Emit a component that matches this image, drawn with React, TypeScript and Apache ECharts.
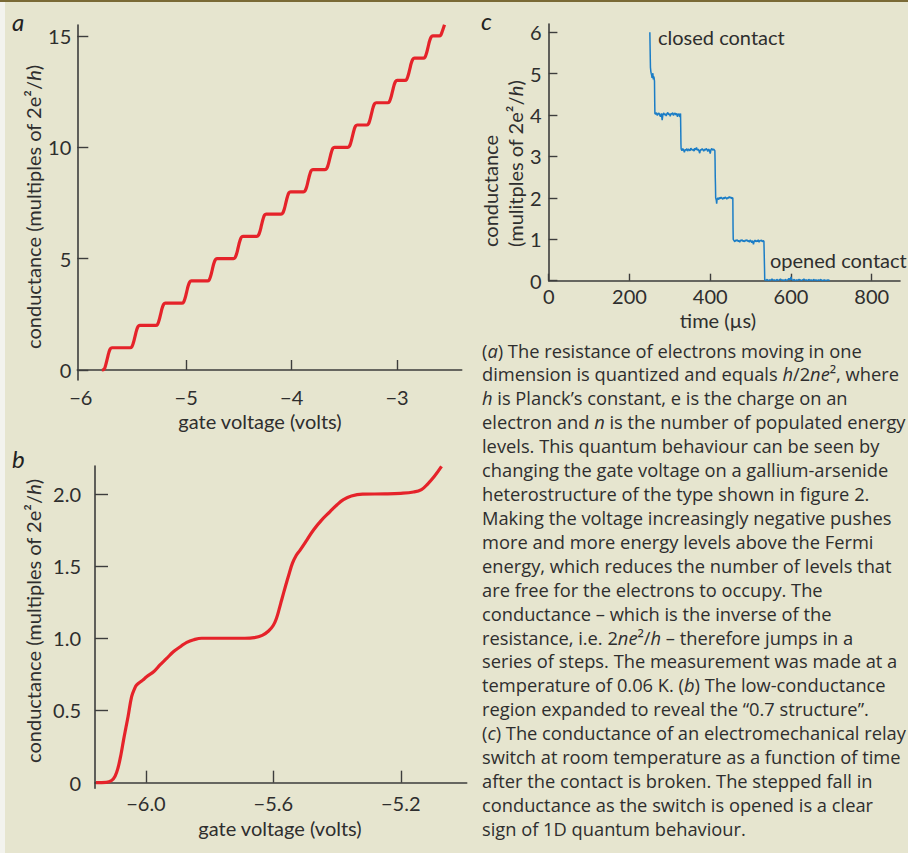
import React, { useEffect, useRef } from 'react';
import * as echarts from 'echarts';

// ---------- Panel a: conductance vs gate voltage (wide range) ----------
const aCurve: [number, number][] = [
  [-5.8, 0], [-5.779, 0.03], [-5.764, 0.22], [-5.749, 0.5], [-5.734, 0.78], [-5.719, 0.96], [-5.704, 1],
  [-5.531, 1], [-5.516, 1.04], [-5.501, 1.22], [-5.486, 1.5], [-5.471, 1.78], [-5.456, 1.96], [-5.441, 2],
  [-5.288, 2], [-5.273, 2.04], [-5.258, 2.22], [-5.243, 2.5], [-5.228, 2.78], [-5.213, 2.96], [-5.198, 3],
  [-5.041, 3], [-5.026, 3.04], [-5.011, 3.22], [-4.996, 3.5], [-4.981, 3.78], [-4.966, 3.96], [-4.951, 4],
  [-4.798, 4], [-4.783, 4.04], [-4.768, 4.22], [-4.753, 4.5], [-4.738, 4.78], [-4.723, 4.96], [-4.708, 5],
  [-4.552, 5], [-4.537, 5.04], [-4.522, 5.22], [-4.507, 5.5], [-4.492, 5.78], [-4.477, 5.96], [-4.462, 6],
  [-4.331, 6], [-4.316, 6.04], [-4.301, 6.22], [-4.286, 6.5], [-4.271, 6.78], [-4.256, 6.96], [-4.241, 7],
  [-4.1, 7], [-4.085, 7.04], [-4.07, 7.22], [-4.055, 7.5], [-4.04, 7.78], [-4.025, 7.96], [-4.01, 8],
  [-3.888, 8], [-3.873, 8.04], [-3.858, 8.22], [-3.843, 8.5], [-3.828, 8.78], [-3.813, 8.96], [-3.798, 9],
  [-3.683, 9], [-3.668, 9.04], [-3.653, 9.22], [-3.638, 9.5], [-3.623, 9.78], [-3.608, 9.96], [-3.593, 10],
  [-3.468, 10], [-3.453, 10.04], [-3.438, 10.22], [-3.423, 10.5], [-3.408, 10.78], [-3.393, 10.96], [-3.378, 11],
  [-3.288, 11], [-3.273, 11.04], [-3.258, 11.22], [-3.243, 11.5], [-3.228, 11.78], [-3.213, 11.96], [-3.198, 12],
  [-3.089, 12], [-3.074, 12.04], [-3.059, 12.22], [-3.044, 12.5], [-3.029, 12.78], [-3.014, 12.96], [-2.999, 13],
  [-2.925, 13], [-2.91, 13.04], [-2.895, 13.22], [-2.88, 13.5], [-2.865, 13.78], [-2.85, 13.96], [-2.835, 14],
  [-2.751, 14], [-2.736, 14.04], [-2.721, 14.22], [-2.706, 14.5], [-2.691, 14.78], [-2.676, 14.96], [-2.661, 15],
  [-2.6, 15], [-2.585, 15.04], [-2.57, 15.22], [-2.55, 15.5],
];
const aXLabels = [-6, -5, -4, -3];
const aXTicks = [-5, -4, -3];
const aYTicks = [0, 5, 10, 15];

// ---------- Panel b: low-conductance region ----------
const bCurve: [number, number][] = [
  [-6.157, 0], [-6.125, 0.002], [-6.108, 0.015], [-6.097, 0.045], [-6.088, 0.1],
  [-6.078, 0.2], [-6.07, 0.3], [-6.063, 0.38], [-6.056, 0.46], [-6.045, 0.596],
  [-6.036, 0.65], [-6.029, 0.677], [-6.01, 0.71], [-5.998, 0.734], [-5.975, 0.77],
  [-5.956, 0.815], [-5.935, 0.86], [-5.914, 0.907], [-5.89, 0.945], [-5.872, 0.972],
  [-5.85, 0.99], [-5.825, 1.0], [-5.75, 1.0], [-5.69, 1.0], [-5.66, 1.004],
  [-5.635, 1.02], [-5.615, 1.05], [-5.6, 1.09], [-5.59, 1.14], [-5.582, 1.2],
  [-5.574, 1.265], [-5.562, 1.36], [-5.55, 1.45], [-5.54, 1.52], [-5.528, 1.575],
  [-5.516, 1.611], [-5.495, 1.68], [-5.474, 1.75], [-5.45, 1.815], [-5.422, 1.877],
  [-5.4, 1.925], [-5.38, 1.96], [-5.355, 1.985], [-5.32, 1.998], [-5.25, 2.0],
  [-5.2, 2.004], [-5.16, 2.013], [-5.135, 2.03], [-5.115, 2.07], [-5.095, 2.12],
  [-5.072, 2.19],
];
const bXTicks = [-6.0, -5.6, -5.2];
const bYTicks = [0, 0.5, 1.0, 1.5, 2.0];

// ---------- Panel c: relay switch conductance vs time ----------
const cCurve: [number, number][] = [
  [250.5, 6.0], [251, 5.7], [251.5, 5.4], [252, 5.15], [253, 5.05], [254, 5.0], [255, 4.96],
  [256, 4.9], [257, 4.98], [258, 5.01], [259, 4.86], [260, 4.93], [261, 4.9], [262, 4.82],
  [262.6, 4.3], [263, 4.04],
  [265, 4.02], [267, 4.06], [269, 3.99], [271, 4.03], [273, 4.05], [275, 4.0], [277, 3.96],
  [279, 4.04], [281, 3.88], [283, 4.02], [285, 4.05], [287, 4.0], [289, 4.03], [291, 3.98],
  [293, 4.04], [295, 4.06], [297, 4.01], [299, 4.03], [301, 3.97], [303, 4.04], [305, 4.02],
  [307, 4.06], [309, 3.99], [311, 4.03], [313, 4.05], [315, 4.0], [317, 4.04], [319, 3.96],
  [321, 4.03], [323, 4.02], [325, 3.95], [326.5, 4.04],
  [327.5, 3.3], [328, 3.18], [330, 3.14], [332, 3.19], [334, 3.16], [336, 3.1], [338, 3.17],
  [340, 3.15], [342, 3.19], [344, 3.13], [346, 3.18], [348, 3.16], [350, 3.14], [352, 3.2],
  [354, 3.17], [356, 3.15], [358, 3.18], [360, 3.13], [362, 3.2], [364, 3.16], [366, 3.22],
  [368, 3.15], [370, 3.18], [372, 3.14], [374, 3.08], [376, 3.17], [378, 3.15], [380, 3.19],
  [382, 3.16], [384, 3.13], [386, 3.18], [388, 3.15], [390, 3.19], [392, 3.17], [394, 3.12],
  [396, 3.18], [398, 3.15], [400, 3.07], [402, 3.17], [404, 3.19], [406, 3.15], [408, 3.18],
  [410, 3.16], [411.5, 3.14],
  [412, 2.9], [412.5, 2.5], [413, 2.3], [413.5, 2.0], [415, 1.95], [416, 1.86], [417, 1.97],
  [419, 2.0], [421, 1.96], [423, 2.01], [425, 1.98], [427, 2.02], [429, 1.99], [431, 1.97],
  [433, 2.01], [435, 1.98], [437, 2.02], [439, 2.0], [441, 1.97], [443, 2.01], [445, 1.99],
  [447, 2.03], [449, 2.0], [451, 2.02], [453, 1.98], [455, 2.01], [456, 1.99],
  [456.5, 1.3], [457, 1.0], [459, 0.97], [461, 0.94], [463, 0.98], [465, 0.96], [467, 0.99],
  [469, 0.95], [471, 0.97], [473, 0.93], [475, 0.98], [477, 0.96], [479, 0.99], [481, 0.95],
  [483, 0.97], [485, 0.94], [487, 0.98], [489, 0.96], [491, 0.99], [493, 0.95], [495, 0.97],
  [497, 0.93], [499, 0.98], [501, 0.96], [503, 0.92], [505, 0.97], [507, 0.88], [509, 0.95],
  [511, 0.98], [513, 0.94], [515, 0.97], [517, 0.95], [519, 0.99], [521, 0.93], [523, 0.97],
  [525, 0.96], [527, 0.98], [529, 0.94], [531, 0.97], [533, 0.95], [534, 0.96],
  [534.5, 0.3], [535, 0.02], [538, 0.01], [541, 0.03], [544, 0.0], [547, 0.02], [550, 0.01],
  [553, 0.04], [556, 0.01], [559, 0.02], [562, 0.0], [565, 0.03], [568, 0.01], [571, 0.02],
  [574, 0.04], [577, 0.01], [580, 0.02], [583, 0.0], [586, 0.03], [589, 0.01], [592, 0.02],
  [595, 0.05], [598, 0.02], [600, 0.09], [602, 0.02], [605, 0.01], [608, 0.03], [611, 0.0],
  [614, 0.02], [617, 0.01], [620, 0.03], [623, 0.02], [626, 0.0], [629, 0.02], [632, 0.04],
  [635, 0.01], [638, 0.02], [641, 0.0], [644, 0.03], [647, 0.01], [650, 0.02], [653, 0.0],
  [656, 0.03], [659, 0.01], [662, 0.02], [665, 0.0], [668, 0.02], [671, 0.01], [674, 0.03],
  [677, 0.0], [680, 0.01], [683, 0.02], [686, 0.0], [689, 0.01], [692, 0.02], [696, 0.0],
];
const cXTicks = [0, 200, 400, 600, 800];
const cYTicks = [0, 1, 2, 3, 4, 5, 6];

// ---------- Caption (italic parts between underscores) ----------
const captionLines = [
  '(_a_) The resistance of electrons moving in one',
  'dimension is quantized and equals _h_/2_ne_², where',
  '_h_ is Planck’s constant, e is the charge on an',
  'electron and _n_ is the number of populated energy',
  'levels. This quantum behaviour can be seen by',
  'changing the gate voltage on a gallium-arsenide',
  'heterostructure of the type shown in figure 2.',
  'Making the voltage increasingly negative pushes',
  'more and more energy levels above the Fermi',
  'energy, which reduces the number of levels that',
  'are free for the electrons to occupy. The',
  'conductance – which is the inverse of the',
  'resistance, i.e. 2_ne_²/_h_ – therefore jumps in a',
  'series of steps. The measurement was made at a',
  'temperature of 0.06 K. (_b_) The low-conductance',
  'region expanded to reveal the “0.7 structure”.',
  '(_c_) The conductance of an electromechanical relay',
  'switch at room temperature as a function of time',
  'after the contact is broken. The stepped fall in',
  'conductance as the switch is opened is a clear',
  'sign of 1D quantum behaviour.',
];

const FONT = 'Lato, "Noto Sans", sans-serif';
const CAPFONT = '"Open Sans", Lato, sans-serif';
const BG = '#e6e5cf';
const AXIS = '#3d3d3d';
const TXT = '#2e2e2e';
const RED = '#e5232a';
const BLUE = '#1b7dc6';

function toRich(s: string): string {
  const parts = s.split('_');
  return parts.map((p, i) => (i % 2 === 1 ? `{i|${p}}` : p)).join('');
}

const minus = (s: string) => s.replace('-', '−');

function valueAxis(opts: any) {
  return {
    type: 'value',
    gridIndex: opts.grid,
    min: opts.min,
    max: opts.max,
    axisLine: { show: true, lineStyle: { color: AXIS, width: 1.6 } },
    axisTick: {
      show: true,
      inside: true,
      length: opts.tickLen,
      customValues: opts.ticks,
      lineStyle: { color: AXIS, width: 1.4 },
    },
    axisLabel: {
      show: true,
      customValues: opts.labels,
      margin: opts.margin,
      color: TXT,
      fontFamily: FONT,
      fontSize: 20,
      formatter: opts.fmt,
      showMinLabel: true,
      showMaxLabel: true,
    },
    splitLine: { show: false },
  };
}

export default function App() {
  const ref = useRef<HTMLDivElement>(null);

  useEffect(() => {
    document.body.style.margin = '0';
    if (!ref.current) return;
    const chart = echarts.init(ref.current, null, { renderer: 'svg' });

    const CAPSIZE = 18.3;
    const captionGraphics = captionLines.map((line, i) => ({
      type: 'text',
      x: 482,
      y: 350 + i * 23.92,
      style: {
        text: toRich(line),
        fontFamily: CAPFONT,
        fontSize: CAPSIZE,
        fill: TXT,
        textVerticalAlign: 'middle',
        rich: { i: { fontStyle: 'italic', fontFamily: CAPFONT, fontSize: CAPSIZE, fill: TXT } },
      },
    }));

    const titleRich = {
      i: { fontStyle: 'italic', fontFamily: FONT, fontSize: 20, fill: TXT },
    };

    const option: any = {
      animation: false,
      backgroundColor: BG,
      grid: [
        { left: 77.3, top: 25, right: 908 - 461.7, bottom: 853 - 380, containLabel: false },
        { left: 95, top: 466, right: 908 - 466.7, bottom: 853 - 788.3, containLabel: false },
        { left: 548.7, top: 24, right: 8, bottom: 853 - 280.7, containLabel: false },
      ],
      xAxis: [
        valueAxis({
          grid: 0, min: -6.033, max: -2.387, ticks: aXTicks, labels: aXLabels, tickLen: 10, margin: 7,
          fmt: (v: number) => minus(String(v)),
        }),
        valueAxis({
          grid: 1, min: -6.16, max: -4.993, ticks: bXTicks, labels: bXTicks, tickLen: 12, margin: 5,
          fmt: (v: number) => minus(v.toFixed(1)),
        }),
        valueAxis({
          grid: 2, min: 0, max: 870, ticks: cXTicks, labels: cXTicks, tickLen: 7, margin: 5,
          fmt: (v: number) => String(v),
        }),
      ],
      yAxis: [
        valueAxis({
          grid: 0, min: -0.449, max: 15.49, ticks: aYTicks, labels: aYTicks, tickLen: 11, margin: 6,
          fmt: (v: number) => String(v),
        }),
        valueAxis({
          grid: 1, min: -0.039, max: 2.193, ticks: bYTicks, labels: bYTicks, tickLen: 13, margin: 14,
          fmt: (v: number) => (v === 0 ? '0' : v.toFixed(1)),
        }),
        valueAxis({
          grid: 2, min: 0, max: 6.2, ticks: cYTicks, labels: cYTicks, tickLen: 8.7, margin: 7,
          fmt: (v: number) => String(v),
        }),
      ],
      series: [
        {
          type: 'line', xAxisIndex: 0, yAxisIndex: 0, data: aCurve, showSymbol: false,
          smooth: 0.4,
          lineStyle: { color: RED, width: 3.2 },
        },
        {
          type: 'line', xAxisIndex: 1, yAxisIndex: 1, data: bCurve, showSymbol: false,
          smooth: 0.4,
          lineStyle: { color: RED, width: 3.2 },
        },
        {
          type: 'line', xAxisIndex: 2, yAxisIndex: 2, data: cCurve, showSymbol: false,
          lineStyle: { color: BLUE, width: 1.5 },
        },
      ],
      graphic: [
        { type: 'rect', shape: { x: 0, y: 0, width: 5, height: 853 }, style: { fill: '#f3f3ee' } },
        { type: 'rect', shape: { x: 0, y: 0, width: 908, height: 2 }, style: { fill: '#7a6a36' } },
        // panel letters
        { type: 'text', x: 12, y: 21, style: { text: 'a', fontFamily: FONT, fontSize: 24, fontStyle: 'italic', fill: '#222', textVerticalAlign: 'middle' } },
        { type: 'text', x: 12, y: 458, style: { text: 'b', fontFamily: FONT, fontSize: 24, fontStyle: 'italic', fill: '#222', textVerticalAlign: 'middle' } },
        { type: 'text', x: 481, y: 20, style: { text: 'c', fontFamily: FONT, fontSize: 24, fontStyle: 'italic', fill: '#222', textVerticalAlign: 'middle' } },
        // axis titles, panel a
        {
          type: 'text', x: 33, y: 207, rotation: Math.PI / 2,
          style: { text: 'conductance (multiples of 2e²/{i|h})', fontFamily: FONT, fontSize: 20, fill: TXT, textAlign: 'center', textVerticalAlign: 'middle', rich: titleRich },
        },
        {
          type: 'text', x: 260, y: 421, style: { text: 'gate voltage (volts)', fontFamily: FONT, fontSize: 20, fill: TXT, textAlign: 'center', textVerticalAlign: 'middle' },
        },
        // axis titles, panel b
        {
          type: 'text', x: 33, y: 621, rotation: Math.PI / 2,
          style: { text: 'conductance (multiples of 2e²/{i|h})', fontFamily: FONT, fontSize: 20, fill: TXT, textAlign: 'center', textVerticalAlign: 'middle', rich: titleRich },
        },
        {
          type: 'text', x: 280, y: 828, style: { text: 'gate voltage (volts)', fontFamily: FONT, fontSize: 20, fill: TXT, textAlign: 'center', textVerticalAlign: 'middle' },
        },
        // axis titles, panel c
        {
          type: 'text', x: 490, y: 247, rotation: Math.PI / 2,
          style: { text: 'conductance', fontFamily: FONT, fontSize: 20, fill: TXT, textAlign: 'left', textVerticalAlign: 'middle' },
        },
        {
          type: 'text', x: 515, y: 247, rotation: Math.PI / 2,
          style: { text: '(mulitples of 2e²/{i|h})', fontFamily: FONT, fontSize: 20, fill: TXT, textAlign: 'left', textVerticalAlign: 'middle', rich: titleRich },
        },
        {
          type: 'text', x: 718, y: 320, style: { text: 'time (µs)', fontFamily: FONT, fontSize: 20, fill: TXT, textAlign: 'center', textVerticalAlign: 'middle' },
        },
        // annotations in c
        { type: 'text', x: 658, y: 37, style: { text: 'closed contact', fontFamily: FONT, fontSize: 20, fill: TXT, textVerticalAlign: 'middle' } },
        { type: 'text', x: 770, y: 260, style: { text: 'opened contact', fontFamily: FONT, fontSize: 20, fill: TXT, textVerticalAlign: 'middle' } },
        ...captionGraphics,
      ],
    };

    chart.setOption(option);
    return () => chart.dispose();
  }, []);

  return (
    <div
      ref={ref}
      style={{ position: 'absolute', left: 0, top: 0, width: 908, height: 853 }}
    />
  );
}
